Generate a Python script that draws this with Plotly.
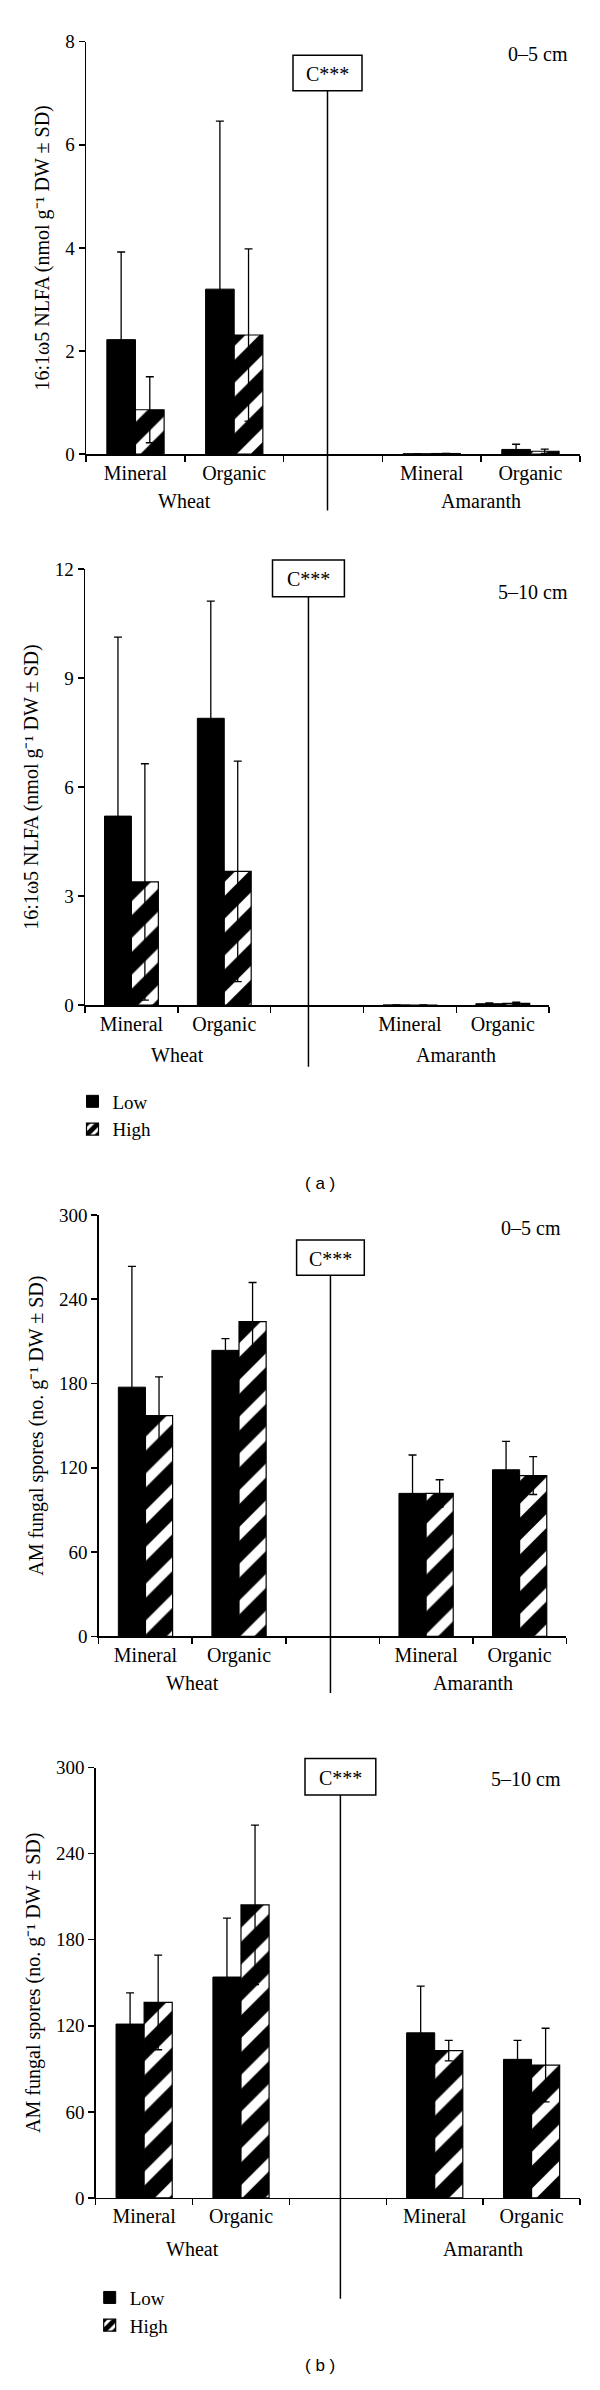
import plotly.graph_objects as go

W, H = 600, 2390

# ---------------- data ----------------
slots = ["Mineral", "Organic", "", "Mineral", "Organic"]   # x slots (empty gap in the middle)
crops = ["Wheat", "Amaranth"]
series_names = ["Low", "High"]

# (a) 16:1w5 NLFA, 0-5 cm
nlfa_05_low = [2.22, 3.20, 0.005, 0.09]
nlfa_05_low_sd = [1.70, 3.26, 0.0, 0.10]
nlfa_05_high = [0.86, 2.31, 0.01, 0.055]
nlfa_05_high_sd = [0.64, 1.67, 0.005, 0.04]

# (a) 16:1w5 NLFA, 5-10 cm
nlfa_510_low = [5.20, 7.89, 0.005, 0.04]
nlfa_510_low_sd = [4.92, 3.22, 0.0, 0.02]
nlfa_510_high = [3.39, 3.68, 0.005, 0.05]
nlfa_510_high_sd = [3.25, 3.03, 0.0, 0.03]

# (b) AM fungal spores, 0-5 cm
spores_05_low = [177.4, 203.6, 101.8, 118.6]
spores_05_low_sd = [86.0, 8.4, 27.3, 20.2]
spores_05_high = [157.2, 224.1, 101.8, 114.5]
spores_05_high_sd = [27.5, 27.8, 9.7, 13.5]

# (b) AM fungal spores, 5-10 cm
spores_510_low = [121.2, 154.0, 115.1, 96.6]
spores_510_low_sd = [21.7, 41.0, 32.6, 13.2]
spores_510_high = [136.3, 204.3, 102.7, 92.6]
spores_510_high_sd = [33.0, 55.6, 7.1, 25.7]

y_ticks_nlfa_05 = [0, 2, 4, 6, 8]
y_ticks_nlfa_510 = [0, 3, 6, 9, 12]
y_ticks_spores = [0, 60, 120, 180, 240, 300]

nlfa_title = "16:1ω5 NLFA (nmol g⁻¹ DW ± SD)"
spores_title = "AM fungal spores (no. g⁻¹ DW ± SD)"
depths = ["0–5 cm", "5–10 cm"]
signif = "C***"
panel_tags = ["( a )", "( b )"]

# ---------------- layout geometry (pixels) ----------------
SERIF = "Liberation Serif"
x_pos = [i for i, s in enumerate(slots) if s]
x_labels = [s for s in slots if s]
crop_centers = [0.5, 3.5]

panels = [
    dict(low=nlfa_05_low, low_sd=nlfa_05_low_sd, high=nlfa_05_high, high_sd=nlfa_05_high_sd,
         yticks=y_ticks_nlfa_05, title=nlfa_title, depth=depths[0],
         px=(86.1, 579.8), py=(32, 448), box=(293, 362, 45.7, 81.4), line_bottom=505,
         crop_y=495, depth_xy=(570, 44.6), legend=None),
    dict(low=nlfa_510_low, low_sd=nlfa_510_low_sd, high=nlfa_510_high, high_sd=nlfa_510_high_sd,
         yticks=y_ticks_nlfa_510, title=nlfa_title, depth=depths[1],
         px=(85, 549.2), py=(563.8, 1004), box=(272.5, 344.4, 555, 592), line_bottom=1066,
         crop_y=1054.5, depth_xy=(570, 586.8), legend=("legend", 92.5, 1095)),
    dict(low=spores_05_low, low_sd=spores_05_low_sd, high=spores_05_high, high_sd=spores_05_high_sd,
         yticks=y_ticks_spores, title=spores_title, depth=depths[0],
         px=(98.7, 566.4), py=(1215.6, 1640.8), box=(296.6, 364.3, 1241, 1276.5), line_bottom=1698,
         crop_y=1687.5, depth_xy=(562.6, 1228.3), legend=None),
    dict(low=spores_510_low, low_sd=spores_510_low_sd, high=spores_510_high, high_sd=spores_510_high_sd,
         yticks=y_ticks_spores, title=spores_title, depth=depths[1],
         px=(95.7, 580), py=(1773.2, 2207.3), box=(305, 375.8, 1764, 1800.7), line_bottom=2309,
         crop_y=2259, depth_xy=(562.6, 1785), legend=("legend2", 109.7, 2301.7)),
]
tags_xy = [(320, 1184), (320, 2376)]


def fx(p):
    return p / W


def fy(p):
    return 1 - p / H


fig = go.Figure()
layout = dict(
    width=W, height=H, margin=dict(l=0, r=0, t=0, b=0),
    paper_bgcolor="white", plot_bgcolor="white",
    barmode="group", bargap=0.42, bargroupgap=0,
    font=dict(family=SERIF, size=20, color="black"),
    showlegend=True,
)
annotations = []
shapes = []

for i, p in enumerate(panels, start=1):
    xa = "x" if i == 1 else f"x{i}"
    ya = "y" if i == 1 else f"y{i}"
    xkey = "xaxis" if i == 1 else f"xaxis{i}"
    ykey = "yaxis" if i == 1 else f"yaxis{i}"
    leg = p["legend"]
    for name, vals, sd in (("Low", p["low"], p["low_sd"]), ("High", p["high"], p["high_sd"])):
        marker = dict(color="black", line=dict(color="black", width=1))
        if name == "High":
            marker = dict(color="white", line=dict(color="black", width=1.2),
                          pattern=dict(shape="/", fgcolor="black", bgcolor="white",
                                       fgopacity=1, size=26, solidity=0.62))
        fig.add_trace(go.Bar(
            x=x_pos, y=vals, name=name, xaxis=xa, yaxis=ya,
            offsetgroup=name, marker=marker,
            error_y=dict(type="data", array=sd, symmetric=True, visible=True,
                         color="black", thickness=1.3, width=4),
            showlegend=leg is not None,
            legend=leg[0] if leg else "legend",
        ))

    layout[xkey] = dict(
        domain=[fx(p["px"][0]), fx(p["px"][1])], range=[-0.5, 4.5], anchor=ya,
        tickmode="array", tickvals=x_pos, ticktext=x_labels, ticks="",
        tickfont=dict(family=SERIF, size=20), showline=True, linecolor="black", linewidth=1.5,
        showgrid=False, zeroline=False, fixedrange=True,
        minor=dict(tickmode="array", tickvals=[k - 0.5 for k in range(len(slots) + 1)],
                   ticks="outside", ticklen=6, tickwidth=1.5, tickcolor="black", showgrid=False),
    )
    layout[ykey] = dict(
        domain=[fy(p["py"][1]), fy(p["py"][0])], range=[0, p["yticks"][-1]], anchor=xa,
        tickmode="array", tickvals=p["yticks"], ticks="outside", ticklen=6, tickwidth=1.5,
        tickcolor="black", tickfont=dict(family=SERIF, size=19),
        showline=True, linecolor="black", linewidth=1.5, showgrid=False, zeroline=False,
        title=dict(text=p["title"], font=dict(family=SERIF, size=20), standoff=10),
        fixedrange=True,
    )

    # significance box and divider line
    bx0, bx1, by0, by1 = p["box"]
    shapes.append(dict(type="rect", xref="paper", yref="paper",
                       x0=fx(bx0), x1=fx(bx1), y0=fy(by1), y1=fy(by0),
                       line=dict(color="black", width=1.5), fillcolor="white"))
    annotations.append(dict(
        xref="paper", yref="paper", x=fx((bx0 + bx1) / 2), y=fy((by0 + by1) / 2 + 1),
        text=signif, showarrow=False,
        font=dict(family=SERIF, size=20), xanchor="center", yanchor="middle",
    ))
    lx = (bx0 + bx1) / 2
    shapes.append(dict(type="line", xref="paper", yref="paper",
                       x0=fx(lx), x1=fx(lx), y0=fy(by1), y1=fy(p["line_bottom"]),
                       line=dict(color="black", width=1.5)))
    # crop labels
    for c, cx in zip(crops, crop_centers):
        annotations.append(dict(xref=xa, yref="paper", x=cx, y=fy(p["crop_y"]), text=c,
                                showarrow=False, xanchor="center", yanchor="middle",
                                font=dict(family=SERIF, size=20)))
    # depth label
    dx, dy = p["depth_xy"]
    annotations.append(dict(xref="paper", yref="paper", x=fx(dx), y=fy(dy), text=p["depth"],
                            showarrow=False, xanchor="right", yanchor="middle",
                            font=dict(family=SERIF, size=20)))
    # legend placement
    if leg:
        layout[leg[0]] = dict(
            x=fx(leg[1] - 20), y=fy(leg[2] - 13), xanchor="left", yanchor="top",
            bgcolor="rgba(0,0,0,0)", borderwidth=0, traceorder="normal",
            font=dict(family=SERIF, size=19), itemclick=False, itemdoubleclick=False,
            tracegroupgap=0,
        )

for t, (tx, ty) in zip(panel_tags, tags_xy):
    annotations.append(dict(xref="paper", yref="paper", x=fx(tx), y=fy(ty), text=t,
                            showarrow=False, xanchor="center", yanchor="middle",
                            font=dict(family="Liberation Sans", size=17)))

layout["annotations"] = annotations
layout["shapes"] = shapes
fig.update_layout(**layout)
fig.write_html("out.html", config={"displayModeBar": False, "staticPlot": True},
               post_script="document.body.style.margin='0px';")
